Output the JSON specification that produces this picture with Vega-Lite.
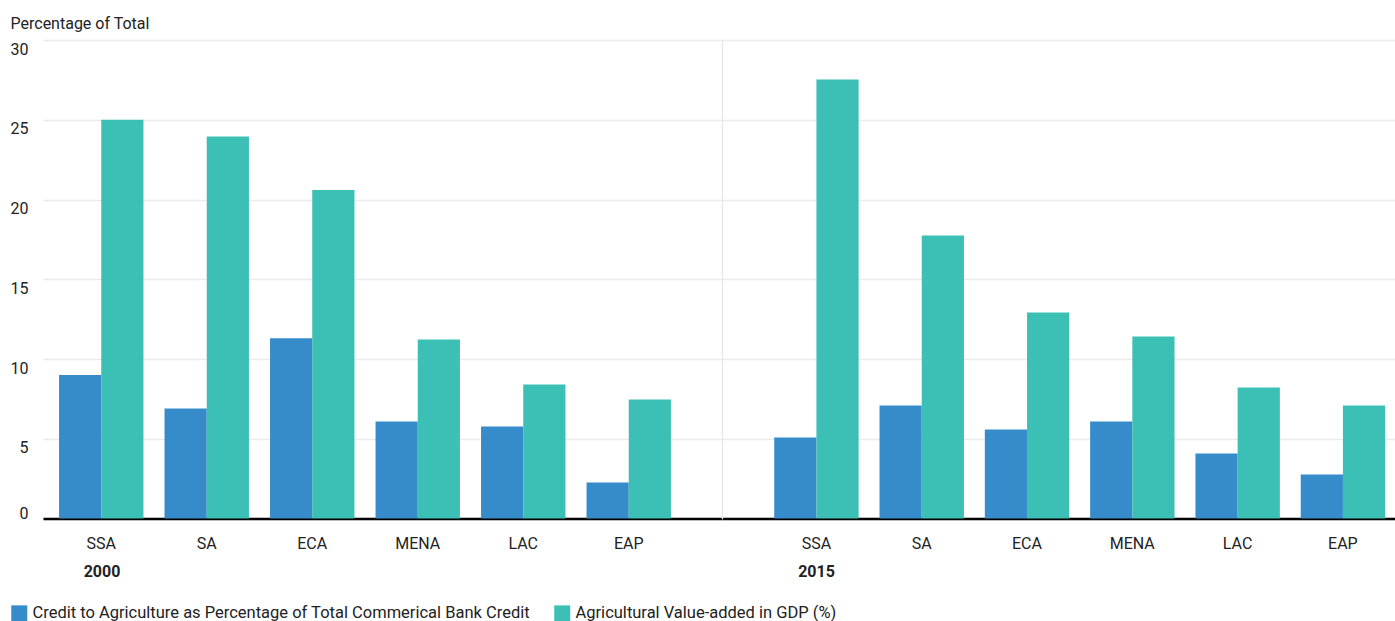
{
  "$schema": "https://vega.github.io/schema/vega-lite/v6.json",
  "autosize": {"type": "pad"},
  "padding": {"left": 10, "top": 15, "right": 0, "bottom": 0},
  "bounds": "flush",
  "spacing": 0,
  "data": {
    "values": [
      {"year": "2000", "region": "SSA", "series": "Credit to Agriculture as Percentage of Total Commerical Bank Credit", "value": 9.0},
      {"year": "2000", "region": "SSA", "series": "Agricultural Value-added in GDP (%)", "value": 25.0},
      {"year": "2000", "region": "SA", "series": "Credit to Agriculture as Percentage of Total Commerical Bank Credit", "value": 6.9},
      {"year": "2000", "region": "SA", "series": "Agricultural Value-added in GDP (%)", "value": 23.95},
      {"year": "2000", "region": "ECA", "series": "Credit to Agriculture as Percentage of Total Commerical Bank Credit", "value": 11.3},
      {"year": "2000", "region": "ECA", "series": "Agricultural Value-added in GDP (%)", "value": 20.6},
      {"year": "2000", "region": "MENA", "series": "Credit to Agriculture as Percentage of Total Commerical Bank Credit", "value": 6.08},
      {"year": "2000", "region": "MENA", "series": "Agricultural Value-added in GDP (%)", "value": 11.22},
      {"year": "2000", "region": "LAC", "series": "Credit to Agriculture as Percentage of Total Commerical Bank Credit", "value": 5.77},
      {"year": "2000", "region": "LAC", "series": "Agricultural Value-added in GDP (%)", "value": 8.4},
      {"year": "2000", "region": "EAP", "series": "Credit to Agriculture as Percentage of Total Commerical Bank Credit", "value": 2.26},
      {"year": "2000", "region": "EAP", "series": "Agricultural Value-added in GDP (%)", "value": 7.46},
      {"year": "2015", "region": "SSA", "series": "Credit to Agriculture as Percentage of Total Commerical Bank Credit", "value": 5.08},
      {"year": "2015", "region": "SSA", "series": "Agricultural Value-added in GDP (%)", "value": 27.52},
      {"year": "2015", "region": "SA", "series": "Credit to Agriculture as Percentage of Total Commerical Bank Credit", "value": 7.08},
      {"year": "2015", "region": "SA", "series": "Agricultural Value-added in GDP (%)", "value": 17.74},
      {"year": "2015", "region": "ECA", "series": "Credit to Agriculture as Percentage of Total Commerical Bank Credit", "value": 5.58},
      {"year": "2015", "region": "ECA", "series": "Agricultural Value-added in GDP (%)", "value": 12.92},
      {"year": "2015", "region": "MENA", "series": "Credit to Agriculture as Percentage of Total Commerical Bank Credit", "value": 6.08},
      {"year": "2015", "region": "MENA", "series": "Agricultural Value-added in GDP (%)", "value": 11.41},
      {"year": "2015", "region": "LAC", "series": "Credit to Agriculture as Percentage of Total Commerical Bank Credit", "value": 4.08},
      {"year": "2015", "region": "LAC", "series": "Agricultural Value-added in GDP (%)", "value": 8.21},
      {"year": "2015", "region": "EAP", "series": "Credit to Agriculture as Percentage of Total Commerical Bank Credit", "value": 2.76},
      {"year": "2015", "region": "EAP", "series": "Agricultural Value-added in GDP (%)", "value": 7.08}
    ]
  },
  "config": {
    "font": "Roboto",
    "view": {"stroke": null},
    "concat": {"spacing": 0},
    "axis": {
      "labelFont": "Roboto",
      "titleFont": "Roboto",
      "labelFontSize": 16,
      "titleFontSize": 16,
      "labelColor": "#222222",
      "titleColor": "#222222",
      "ticks": false
    },
    "legend": {
      "labelFont": "Roboto",
      "labelFontSize": 16.5,
      "labelColor": "#222222"
    }
  },
  "hconcat": [
    {
      "width": 679,
      "height": 478.5,
      "transform": [{"filter": "datum.year == '2000'"}],
      "mark": {"type": "bar"},
      "encoding": {
        "x": {
          "field": "region",
          "type": "nominal",
          "sort": ["SSA", "SA", "ECA", "MENA", "LAC", "EAP"],
          "scale": {"paddingInner": 0.2, "paddingOuter": 0.318, "align": 0.239},
          "axis": {
            "title": "2000",
            "titleX": 58.5,
            "titleY": 45,
            "titleAlign": "center",
            "titleBaseline": "top",
            "titleFontWeight": "bold",
            "labelAngle": 0,
            "labelPadding": 17,
            "labelBaseline": "top",
            "domainColor": "#000000",
            "domainWidth": 2.5,
            "grid": false
          }
        },
        "xOffset": {
          "field": "series",
          "sort": ["Credit to Agriculture as Percentage of Total Commerical Bank Credit", "Agricultural Value-added in GDP (%)"]
        },
        "y": {
          "field": "value",
          "type": "quantitative",
          "scale": {"domain": [0, 30]},
          "axis": {
            "title": "Percentage of Total",
            "titleAngle": 0,
            "titleAlign": "left",
            "titleBaseline": "alphabetic",
            "titleX": -33,
            "titleY": -12,
            "titleFontWeight": "normal",
            "values": [0, 5, 10, 15, 20, 25, 30],
            "grid": true,
            "gridColor": "#ebebeb",
            "gridWidth": 1.3,
            "domain": false,
            "labelPadding": 15,
            "labelAlign": "right",
            "labelBaseline": {"condition": {"test": "datum.value == 0", "value": "alphabetic"}, "value": "top"},
            "labelOffset": {"condition": {"test": "datum.value == 0", "value": 0}, "value": 1}
          }
        },
        "color": {
          "field": "series",
          "type": "nominal",
          "scale": {
            "domain": ["Credit to Agriculture as Percentage of Total Commerical Bank Credit", "Agricultural Value-added in GDP (%)"],
            "range": ["#368bca", "#3cbfb4"]
          },
          "legend": {
            "title": null,
            "orient": "none",
            "legendX": -32,
            "legendY": 565,
            "direction": "horizontal",
            "symbolType": "square",
            "symbolSize": 256,
            "symbolStrokeWidth": 0,
            "symbolOpacity": 1,
            "labelOffset": 5,
            "columnPadding": 24,
            "padding": 0,
            "labelLimit": 1000
          }
        }
      }
    },
    {
      "width": 673,
      "height": 478.5,
      "transform": [{"filter": "datum.year == '2015'"}],
      "mark": {"type": "bar"},
      "encoding": {
        "x": {
          "field": "region",
          "type": "nominal",
          "sort": ["SSA", "SA", "ECA", "MENA", "LAC", "EAP"],
          "scale": {"paddingInner": 0.2, "paddingOuter": 0.2956, "align": 0.839},
          "axis": {
            "title": "2015",
            "titleX": 94,
            "titleY": 45,
            "titleAlign": "center",
            "titleBaseline": "top",
            "titleFontWeight": "bold",
            "labelAngle": 0,
            "labelPadding": 17,
            "labelBaseline": "top",
            "domainColor": "#000000",
            "domainWidth": 2.5,
            "grid": false
          }
        },
        "xOffset": {
          "field": "series",
          "sort": ["Credit to Agriculture as Percentage of Total Commerical Bank Credit", "Agricultural Value-added in GDP (%)"]
        },
        "y": {
          "field": "value",
          "type": "quantitative",
          "scale": {"domain": [0, 30]},
          "axis": {
            "title": null,
            "labels": false,
            "values": [0, 5, 10, 15, 20, 25, 30],
            "grid": true,
            "gridColor": "#ebebeb",
            "gridWidth": 1.3,
            "domain": true,
            "domainColor": "#e6e6e6",
            "domainWidth": 1.3
          }
        },
        "color": {
          "field": "series",
          "type": "nominal",
          "scale": {
            "domain": ["Credit to Agriculture as Percentage of Total Commerical Bank Credit", "Agricultural Value-added in GDP (%)"],
            "range": ["#368bca", "#3cbfb4"]
          }
        }
      }
    }
  ]
}
